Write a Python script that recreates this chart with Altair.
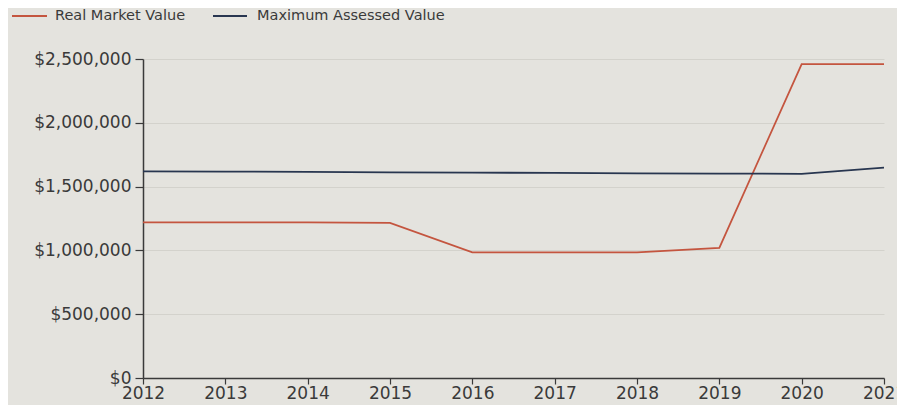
import altair as alt
import pandas as pd

years = [2012, 2013, 2014, 2015, 2016, 2017, 2018, 2019, 2020, 2021]
real_market = [1220000, 1220000, 1220000, 1215000, 985000, 985000, 985000, 1020000, 2460000, 2460000]
max_assessed = [1620000, 1618000, 1615000, 1612000, 1610000, 1607000, 1604000, 1602000, 1600000, 1648000]
series_names = ["Real Market Value", "Maximum Assessed Value"]
series_colors = ["#c4553f", "#283650"]
y_ticks = [0, 500000, 1000000, 1500000, 2000000, 2500000]

rows = []
for y, v in zip(years, real_market):
    rows.append({"year": y, "value": v, "series": series_names[0]})
for y, v in zip(years, max_assessed):
    rows.append({"year": y, "value": v, "series": series_names[1]})
df = pd.DataFrame(rows)

FONT = "DejaVu Sans"
TXT = "#3a3a3a"

lines = alt.Chart(df).mark_line(strokeWidth=1.8).encode(
    x=alt.X("year:Q",
            scale=alt.Scale(domain=[years[0], years[-1]], nice=False, zero=False),
            axis=alt.Axis(values=years, format="d", title=None, grid=False,
                          tickSize=6, labelPadding=1, labelFontSize=17,
                          labelFont=FONT, labelColor=TXT,
                          domainColor=TXT, tickColor=TXT,
                          domainWidth=1.5, tickWidth=1.2, labelFlush=False)),
    y=alt.Y("value:Q",
            scale=alt.Scale(domain=[0, 2500000], nice=False),
            axis=alt.Axis(values=y_ticks, format="$,.0f", title=None,
                          grid=True, gridColor="#d3d2cc", gridWidth=1,
                          tickSize=8, labelPadding=4, labelFontSize=17,
                          labelFont=FONT, labelColor=TXT,
                          domainColor=TXT, tickColor=TXT,
                          domainWidth=1.5, tickWidth=1.2)),
    color=alt.Color("series:N",
                    scale=alt.Scale(domain=series_names, range=series_colors),
                    legend=None),
)

# manual legend (positions relative to the plot area's top-left corner)
leg = pd.DataFrame({
    "series": series_names,
    "x1": [-131, 70],
    "x2": [-96, 104],
    "tx": [-88, 114],
})
leg_y = -43

legend_rules = alt.Chart(leg).mark_rule(strokeWidth=2).encode(
    x=alt.X("x1:Q", scale=None),
    x2="x2:Q",
    y=alt.value(leg_y),
    color=alt.Color("series:N",
                    scale=alt.Scale(domain=series_names, range=series_colors),
                    legend=None),
)
legend_text = alt.Chart(leg).mark_text(
    align="left", baseline="middle", font=FONT, fontSize=14.5, color=TXT
).encode(
    x=alt.X("tx:Q", scale=None),
    y=alt.value(leg_y),
    text="series:N",
)

chart = alt.layer(lines, legend_rules, legend_text).properties(
    width=741, height=319,
    background="#e4e3de",
    padding={"left": 135, "top": 51, "right": 13, "bottom": 27},
    autosize=alt.AutoSizeParams(type="none"),
).configure_view(stroke=None)

chart.save("out.html", embed_options={"renderer": "svg", "actions": False})
